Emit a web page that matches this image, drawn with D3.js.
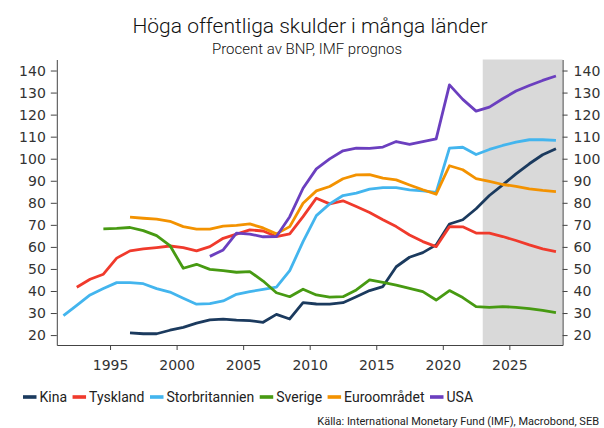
<!DOCTYPE html>
<html>
<head>
<meta charset="utf-8">
<script src="https://cdn.jsdelivr.net/npm/d3@7"></script>
<style>
  body { margin: 0; background: #fff; }
  svg { display: block; }
</style>
</head>
<body>
<script>
// years 1991 - 2028, null = no data
const years = d3.range(1991, 2029);

const kina = [null, null, null, null, null,
  21.0, 20.6, 20.6, 22.2, 23.5, 25.4, 26.9, 27.2, 26.8, 26.6, 25.8, 29.4, 27.3, 34.7, 34.1,
  34.0, 34.7, 37.4, 40.2, 42.0, 51.0, 55.3, 57.4, 60.9, 70.4, 72.3, 77.3, 83.3, 88.1, 93.1,
  97.7, 101.8, 104.5];
const tyskland = [null,
  41.7, 45.3, 47.6, 54.9, 58.2, 59.1, 59.7, 60.4, 59.7, 58.2, 60.1, 63.9, 65.8, 67.7, 67.2,
  64.7, 65.9, 73.7, 82.1, 79.5, 80.9, 78.3, 75.6, 72.3, 69.2, 65.4, 62.4, 60.1, 69.2, 69.1,
  66.3, 66.2, 64.7, 62.9, 60.9, 59.1, 57.9];
const storbritannien = [
  28.8, 33.5, 38.2, 41.1, 43.8, 43.8, 43.3, 41.1, 39.5, 36.7, 34.0, 34.3, 35.5, 38.5, 39.7,
  40.7, 41.7, 49.2, 62.4, 74.2, 79.5, 83.3, 84.4, 86.2, 86.9, 86.9, 85.9, 85.4, 84.7, 104.8,
  105.2, 101.9, 104.2, 106.0, 107.5, 108.6, 108.6, 108.3];
const sverige = [null, null, null,
  68.2, 68.4, 68.8, 67.4, 65.1, 60.6, 50.3, 52.1, 49.8, 49.2, 48.5, 48.8, 44.5, 39.2, 37.4,
  40.8, 38.2, 37.2, 37.4, 40.5, 45.0, 43.9, 42.7, 41.2, 39.7, 35.9, 40.2, 37.0, 32.9, 32.6,
  32.9, 32.6, 32.0, 31.2, 30.2];
const euro = [null, null, null, null, null,
  73.5, 73.0, 72.6, 71.6, 69.2, 68.1, 68.1, 69.4, 69.8, 70.4, 68.6, 65.9, 69.2, 79.8, 85.4,
  87.4, 90.9, 92.7, 92.8, 91.2, 90.4, 88.1, 85.9, 83.9, 96.8, 95.0, 91.0, 89.7, 88.3, 87.5,
  86.3, 85.6, 85.1];
const usa = [null, null, null, null, null, null, null, null, null, null, null,
  55.7, 58.6, 66.2, 65.8, 64.6, 64.7, 73.7, 86.6, 95.4, 99.9, 103.6, 104.8, 104.7, 105.3,
  107.8, 106.5, 107.8, 109.0, 133.5, 126.9, 121.6, 123.4, 127.2, 130.7, 133.2, 135.5, 137.5];

const names = ["Kina", "Tyskland", "Storbritannien", "Sverige", "Euroområdet", "USA"];
const colors = ["#1b3a5e", "#f03a2c", "#43b5ee", "#479a12", "#f39200", "#6b3fbf"];
const seriesValues = [kina, tyskland, storbritannien, sverige, euro, usa];

const yTicks = d3.range(20, 141, 10);
const xTicks = [1995, 2000, 2005, 2010, 2015, 2020, 2025];
const forecastStart = 2023;

const width = 604, height = 428;

const svg = d3.select("body").append("svg")
  .attr("width", width)
  .attr("height", height);

svg.append("rect").attr("width", width).attr("height", height).attr("fill", "#fff");

// scales: each annual value sits in the middle of its year
const x = d3.scaleLinear().domain([1991, 2029]).range([56.8, 562.6]);
const y = d3.scaleLinear().domain([15.5, 145]).range([345, 59.5]);

// forecast shading
svg.append("rect")
  .attr("x", x(forecastStart))
  .attr("y", y(145))
  .attr("width", x(2029) - x(forecastStart))
  .attr("height", y(15.5) - y(145))
  .attr("fill", "#d9d9d9");

// title
svg.append("text")
  .attr("x", 310).attr("y", 33)
  .attr("text-anchor", "middle")
  .style("font-family", "Roboto")
  .style("font-size", "21px")
  .style("font-weight", 300)
  .attr("fill", "#111")
  .text("Höga offentliga skulder i många länder");

svg.append("text")
  .attr("x", 307).attr("y", 54)
  .attr("text-anchor", "middle")
  .style("font-family", "Roboto")
  .style("font-size", "15px")
  .style("font-weight", 300)
  .attr("fill", "#111")
  .text("Procent av BNP, IMF prognos");

// axes
const tickFont = (g) => g.selectAll("text")
  .style("font-family", "'DejaVu Sans'")
  .style("font-size", "14px")
  .attr("fill", "#333");

const axisStyle = (g) => {
  g.select(".domain").attr("stroke", "#444");
  g.selectAll(".tick line").attr("stroke", "#444");
};

svg.append("g")
  .attr("transform", `translate(${x(1991)},0)`)
  .call(d3.axisLeft(y).tickValues(yTicks).tickSize(6).tickPadding(5).tickSizeOuter(0))
  .call(axisStyle)
  .call(tickFont);

svg.append("g")
  .attr("transform", `translate(${x(2029)},0)`)
  .call(d3.axisRight(y).tickValues(yTicks).tickSize(5).tickPadding(6).tickSizeOuter(0))
  .call(axisStyle)
  .call(tickFont);

svg.append("g")
  .attr("transform", `translate(0,${y(15.5)})`)
  .call(d3.axisBottom(x).tickValues(xTicks).tickFormat(d3.format("d"))
    .tickSize(5).tickPadding(10).tickSizeOuter(0))
  .call(axisStyle)
  .call(tickFont);

// lines
const line = d3.line()
  .defined(d => d.v != null)
  .x(d => x(d.year + 0.5))
  .y(d => y(d.v));

seriesValues.forEach((vals, i) => {
  const data = years.map((yr, j) => ({ year: yr, v: vals[j] }));
  svg.append("path")
    .datum(data)
    .attr("fill", "none")
    .attr("stroke", colors[i])
    .attr("stroke-width", 2.8)
    .attr("stroke-linejoin", "round")
    .attr("d", line);
});

// legend
const legend = svg.append("g").attr("transform", "translate(23,397)");
let lx = 0;
names.forEach((name, i) => {
  const item = legend.append("g").attr("transform", `translate(${lx},0)`);
  item.append("rect")
    .attr("x", 0).attr("y", -1.8)
    .attr("width", 13.5).attr("height", 3.6)
    .attr("fill", colors[i]);
  const t = item.append("text")
    .attr("x", 16.5).attr("y", 5)
    .style("font-family", "Roboto")
    .style("font-size", "14px")
    .attr("fill", "#222")
    .text(name);
  lx += 16.5 + t.node().getComputedTextLength() + 5.5;
});

// source
svg.append("text")
  .attr("x", 599).attr("y", 425)
  .attr("text-anchor", "end")
  .style("font-family", "Roboto")
  .style("font-size", "11px")
  .attr("fill", "#222")
  .text("Källa: International Monetary Fund (IMF), Macrobond, SEB");
</script>
</body>
</html>
